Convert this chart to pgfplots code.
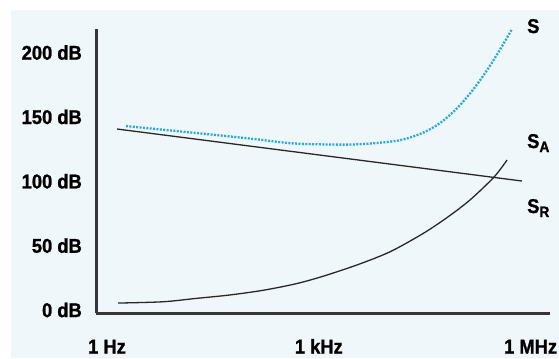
\documentclass[border=0pt]{standalone}
\usepackage{pgfplots}
\pgfplotsset{compat=1.18}
\usepackage{fontspec}
\setmainfont{Liberation Sans}
\newfontfamily\labfont[FakeStretch=0.92,BoldFeatures={FakeBold=1.2}]{Liberation Sans}
\definecolor{bgpanel}{RGB}{240,247,250}
\definecolor{scyan}{RGB}{41,171,214}
\definecolor{axisgray}{RGB}{55,55,55}
\definecolor{curve}{RGB}{40,40,40}
\newcommand{\lab}{\labfont\fontsize{20}{20}\selectfont\bfseries}
\newcommand{\sub}[1]{\raisebox{-4bp}{\labfont\fontsize{15}{15}\selectfont\bfseries #1}}
\begin{document}
\begin{tikzpicture}[x=1bp,y=1bp]
\useasboundingbox (0,0) rectangle (559,358);
\fill[bgpanel] (11,0) rectangle (559,348);
\begin{axis}[
  at={(96bp,45bp)}, anchor=south west,
  scale only axis, width=454bp, height=284bp,
  xmin=-0.156, xmax=6.275, ymin=-2.33, ymax=218.3,
  axis x line=bottom, axis y line=left,
  axis line style={-, line width=3bp, axisgray},
  xtick={0,3,6}, xticklabels={1 Hz,1 kHz,1 MHz},
  ytick={0,50,100,150,200}, yticklabels={0 dB,50 dB,100 dB,150 dB,200 dB},
  major tick length=0pt,
  xticklabel style={anchor=base, yshift=-40.5bp, inner sep=0pt, font=\lab},
  yticklabel style={anchor=east, xshift=-14bp, inner sep=0pt, font=\lab},
  clip=false,
]
% S_R
\addplot[curve, line width=1.3bp] coordinates {(0.142,140.6) (5.878,100.2)};
% S_A
\addplot[curve, line width=1.3bp, smooth] coordinates {
(0.156,5.4) (0.793,6.4) (1.261,9.0) (1.728,11.6) (2.210,15.3) (2.677,20.4)
(3.059,26.2) (3.541,35.0) (4.008,45.2) (4.476,59.4) (4.816,71.8) (5.142,85.5)
(5.482,103.3) (5.666,116.5)};
% S
\addplot[scyan, line width=2.3bp, dash pattern=on 2bp off 1.4bp, smooth] coordinates {
(0.269,142.9) (1.261,137.5) (2.025,133.2) (2.592,129.6) (3.017,128.7) (3.442,128.5)
(3.768,129.5) (4.008,130.8) (4.150,131.9) (4.292,134.0) (4.433,136.7) (4.575,140.4)
(4.717,145.2) (4.858,151.5) (5.000,159.2) (5.142,168.2) (5.283,178.4) (5.425,189.8)
(5.567,202.3) (5.737,218.3)};
\end{axis}
\node[anchor=base west, inner sep=0pt, font=\lab] at (527,325) {S};
\node[anchor=base west, inner sep=0pt, font=\lab] at (527,210) {S\sub{A}};
\node[anchor=base west, inner sep=0pt, font=\lab] at (527,145) {S\sub{R}};
\end{tikzpicture}
\end{document}
